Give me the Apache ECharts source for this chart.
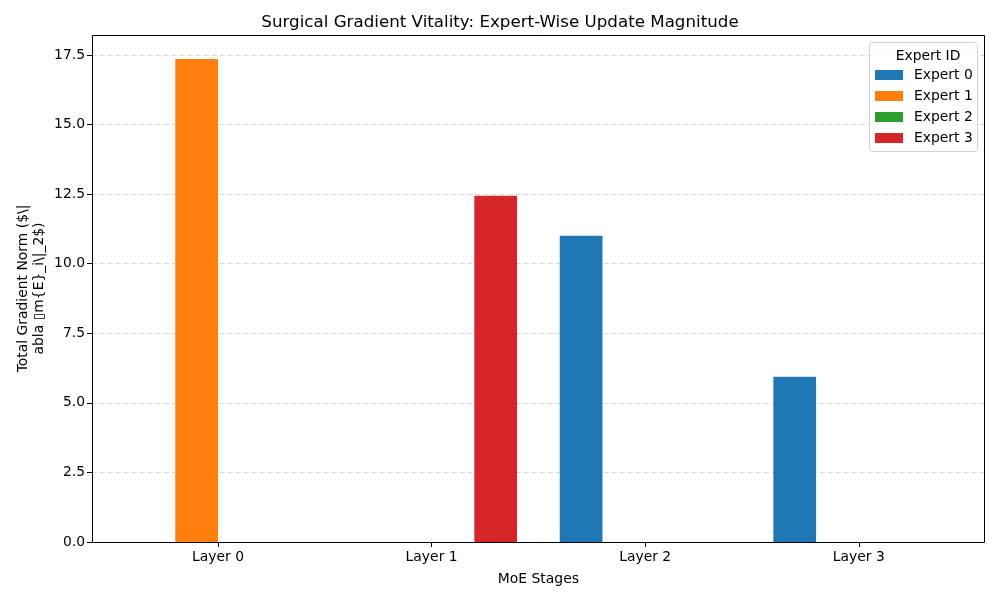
<!DOCTYPE html>
<html>
<head>
<meta charset="utf-8">
<script src="https://cdn.jsdelivr.net/npm/echarts@6/dist/echarts.min.js"></script>
<style>html,body{margin:0;padding:0;background:#fff}#c{width:1000px;height:600px}</style>
</head>
<body>
<div id="c"></div>
<script>
const categories = ['Layer 0', 'Layer 1', 'Layer 2', 'Layer 3'];
const expertNames = ['Expert 0', 'Expert 1', 'Expert 2', 'Expert 3'];
const expert0 = [0, 0, 11.01, 5.94];
const expert1 = [17.36, 0, 0, 0];
const expert2 = [0, 0, 0, 0];
const expert3 = [0, 12.44, 0, 0];
const yTicks = [0, 2.5, 5, 7.5, 10, 12.5, 15, 17.5];
const colors = ['#1f77b4', '#ff7f0e', '#2ca02c', '#d62728'];

const FONT = 'DejaVu Sans';
const FS = 13.9;
const Y_MAX = 18.22;
const seriesData = [expert0, expert1, expert2, expert3];

const chart = echarts.init(document.getElementById('c'), null, {renderer: 'canvas'});
chart.setOption({
  animation: false,
  textStyle: {fontFamily: FONT},
  title: [
    {text: 'Surgical Gradient Vitality: Expert-Wise Update Magnitude', left: 'center', top: 9, z: 100,
     textStyle: {fontFamily: FONT, fontSize: 16.7, fontWeight: 'normal', color: '#000'}},
    {text: 'Expert ID', left: 923, top: 44, textAlign: 'center', z: 100,
     textStyle: {fontFamily: FONT, fontSize: FS, fontWeight: 'normal', color: '#000'}}
  ],
  graphic: [
    {type: 'rect', z: 5, silent: true,
     shape: {x: 869.5, y: 42.5, width: 108, height: 109, r: 3},
     style: {fill: 'rgba(255,255,255,0.8)', stroke: '#d0d0d0', lineWidth: 1}},
    {type: 'rect', z: 4, silent: true,
     shape: {x: 92.5, y: 35.5, width: 892, height: 507},
     style: {fill: 'none', stroke: '#000', lineWidth: 1}}
  ],
  legend: {
    data: expertNames, orient: 'vertical', left: 875, top: 68, z: 60, padding: 0,
    itemWidth: 28, itemHeight: 10, itemGap: 7, icon: 'rect',
    textStyle: {fontFamily: FONT, fontSize: FS, color: '#000', padding: [0, 0, 0, 6]}
  },
  grid: [
    {left: 92, right: 15, top: 35, bottom: 58},
    {left: 111.2, right: 34.4, top: 35, bottom: 58}
  ],
  xAxis: [
    {type: 'category', gridIndex: 0, data: categories, show: false},
    {type: 'category', gridIndex: 1, data: categories,
     axisLine: {show: false},
     axisTick: {show: true, alignWithLabel: true, length: 5, lineStyle: {color: '#000'}},
     axisLabel: {fontFamily: FONT, fontSize: FS, color: '#000', margin: 8},
     name: 'MoE Stages', nameLocation: 'middle', nameGap: 30,
     nameTextStyle: {fontFamily: FONT, fontSize: FS, color: '#000'}}
  ],
  yAxis: [
    {type: 'value', gridIndex: 0, min: 0, max: Y_MAX,
     axisLine: {show: false},
     axisTick: {show: true, length: 5, lineStyle: {color: '#000'}, customValues: yTicks},
     axisLabel: {fontFamily: FONT, fontSize: FS, color: '#000', margin: 7, customValues: yTicks,
                 formatter: v => v.toFixed(1)},
     splitLine: {show: true, lineStyle: {color: '#cccccc', type: [5, 3], width: 0.8}},
     name: 'Total Gradient Norm ($\\|\nabla \u25AFm{E}_i\\|_2$)',
     nameLocation: 'middle', nameGap: 45, nameRotate: 90, nameMoveOverlap: false,
     nameTextStyle: {fontFamily: FONT, fontSize: FS, color: '#000', lineHeight: 16}},
    {type: 'value', gridIndex: 1, min: 0, max: Y_MAX, show: false, splitLine: {show: false}}
  ],
  series: seriesData.map((d, i) => ({
    type: 'bar', name: expertNames[i], data: d,
    xAxisIndex: 1, yAxisIndex: 1, z: 3,
    barGap: '0%', barCategoryGap: '20%',
    itemStyle: {color: colors[i]}
  }))
});
</script>
</body>
</html>
